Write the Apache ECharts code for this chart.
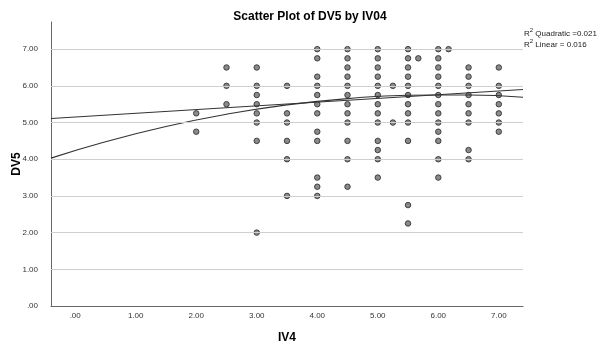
<!DOCTYPE html>
<html><head><meta charset="utf-8">
<script src="https://cdn.jsdelivr.net/npm/echarts@6/dist/echarts.min.js"></script>
<style>html,body{margin:0;padding:0;background:#fff}#c{width:597px;height:349px}</style>
</head><body><div id="c"></div>
<script>
// IV4 values (x) and DV5 values observed at each IV4 value
const ivValues = [2.0, 2.5, 3.0, 3.5, 4.0, 4.5, 5.0, 5.25, 5.5, 5.67, 6.0, 6.17, 6.5, 7.0];
const dvAt2_0 = [5.25, 4.75];
const dvAt2_5 = [6.5, 6.0, 5.5];
const dvAt3_0 = [6.5, 6.0, 5.75, 5.5, 5.25, 5.0, 4.5, 2.0];
const dvAt3_5 = [6.0, 5.25, 5.0, 4.5, 4.0, 3.0];
const dvAt4_0 = [7.0, 6.75, 6.25, 6.0, 5.75, 5.5, 5.25, 4.75, 4.5, 3.5, 3.25, 3.0];
const dvAt4_5 = [7.0, 6.75, 6.5, 6.25, 6.0, 5.75, 5.5, 5.25, 5.0, 4.5, 4.0, 3.25];
const dvAt5_0 = [7.0, 6.75, 6.5, 6.25, 6.0, 5.75, 5.5, 5.25, 5.0, 4.5, 4.25, 4.0, 3.5];
const dvAt5_25 = [6.0, 5.0];
const dvAt5_5 = [7.0, 6.75, 6.5, 6.25, 6.0, 5.75, 5.5, 5.25, 5.0, 4.5, 2.75, 2.25];
const dvAt5_67 = [6.75];
const dvAt6_0 = [7.0, 6.75, 6.5, 6.25, 6.0, 5.75, 5.5, 5.25, 5.0, 4.75, 4.5, 4.0, 3.5];
const dvAt6_17 = [7.0];
const dvAt6_5 = [6.5, 6.25, 6.0, 5.75, 5.5, 5.25, 5.0, 4.25, 4.0];
const dvAt7_0 = [6.5, 6.0, 5.75, 5.5, 5.25, 5.0, 4.75];
const dvColumns = [dvAt2_0, dvAt2_5, dvAt3_0, dvAt3_5, dvAt4_0, dvAt4_5, dvAt5_0, dvAt5_25, dvAt5_5, dvAt5_67, dvAt6_0, dvAt6_17, dvAt6_5, dvAt7_0];

// Fit lines
const linearX = [-0.4, 7.4];
const linearY = [5.11, 5.90];
const quadX = [-0.4, 0.5, 1.5, 2.5, 3.5, 4.5, 5.5, 6.5, 7.4];
const quadY = [4.03, 4.475, 4.892, 5.227, 5.481, 5.653, 5.743, 5.752, 5.69];

// Tick labels
const xTicks = [0, 1, 2, 3, 4, 5, 6, 7];
const yTicks = [0, 1, 2, 3, 4, 5, 6, 7];
const yGridValues = [1, 2, 3, 4, 5, 6, 7];

const fmt = v => (Math.abs(v) < 1e-9 ? '.00' : v.toFixed(2));

const points = [];
ivValues.forEach((x, i) => dvColumns[i].forEach(y => points.push([x, y])));

const chart = echarts.init(document.getElementById('c'), null, {renderer: 'canvas'});
const FONT = '"Liberation Sans", Arial, sans-serif';
chart.setOption({
  animation: false,
  backgroundColor: '#ffffff',
  title: [
    {text: 'Scatter Plot of DV5 by IV04', left: 305, textAlign: 'center', top: 6,
     textStyle: {fontFamily: FONT, fontSize: 12, fontWeight: 'bold', color: '#000'}},
    {text: '{a|R}{s|2}{a| Quadratic =0.021}\n{a|R}{s|2}{a| Linear = 0.016}', left: 519, top: 22,
     textStyle: {fontWeight: 'normal', rich: {
       a: {fontFamily: FONT, fontSize: 8, fontWeight: 'normal', color: '#222', lineHeight: 11, verticalAlign: 'bottom'},
       s: {fontFamily: FONT, fontSize: 6, fontWeight: 'normal', color: '#222', lineHeight: 11, verticalAlign: 'top', padding: [0,0,4,0]}
     }}}
  ],
  grid: {left: 51, right: 74, top: 22, bottom: 43, containLabel: false, outerBoundsMode: 'none'},
  xAxis: {
    type: 'value', min: -0.4, max: 7.4,
    name: 'IV4', nameLocation: 'middle', nameGap: 26,
    nameTextStyle: {fontFamily: FONT, fontSize: 12, fontWeight: 'bold', color: '#000'},
    axisLine: {show: true, onZero: false, lineStyle: {color: '#666', width: 1}},
    axisTick: {show: false},
    splitLine: {show: false},
    axisLabel: {customValues: xTicks, formatter: fmt, fontFamily: FONT, fontSize: 8, color: '#333', margin: 6}
  },
  yAxis: {
    type: 'value', min: 0, max: 7.74,
    name: 'DV5', nameLocation: 'middle', nameGap: 28, nameRotate: 90, nameMoveOverlap: false,
    nameTextStyle: {fontFamily: FONT, fontSize: 12, fontWeight: 'bold', color: '#000'},
    axisLine: {show: true, onZero: false, lineStyle: {color: '#666', width: 1}},
    axisTick: {show: false},
    splitLine: {show: false},
    axisLabel: {customValues: yTicks, formatter: fmt, fontFamily: FONT, fontSize: 8, color: '#333', margin: 13}
  },
  series: [
    {
      type: 'scatter', data: points, symbol: 'circle', symbolSize: 5.5, z: 3,
      itemStyle: {color: '#8a8a8a', borderColor: '#333', borderWidth: 0.9, opacity: 1},
      markLine: {silent: true, symbol: 'none', animation: false, label: {show: false},
        lineStyle: {color: '#cfcfcf', width: 1, type: 'solid'},
        data: yGridValues.map(v => ({yAxis: v}))}
    },
    {type: 'line', data: linearX.map((x, i) => [x, linearY[i]]), showSymbol: false, symbol: 'none',
     lineStyle: {color: '#333', width: 1.1}, z: 4},
    {type: 'line', data: quadX.map((x, i) => [x, quadY[i]]), showSymbol: false, symbol: 'none', smooth: true,
     lineStyle: {color: '#333', width: 1.1}, z: 4}
  ]
});
</script></body></html>
